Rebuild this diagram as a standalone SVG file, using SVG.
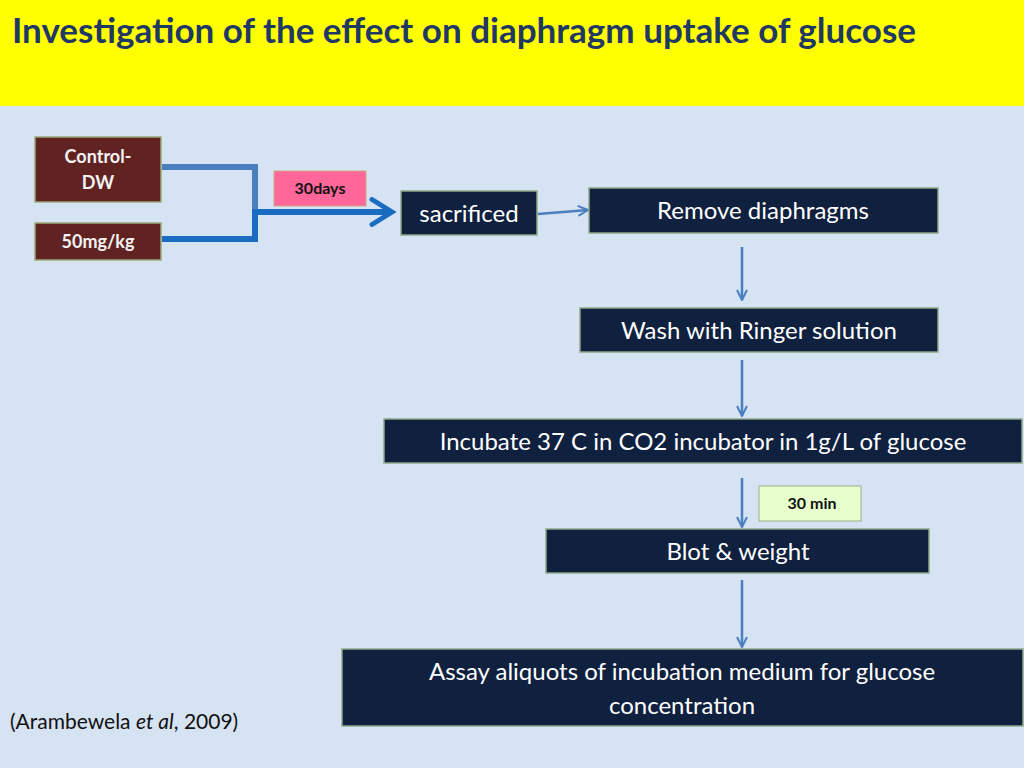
<svg xmlns="http://www.w3.org/2000/svg" width="1024" height="768" viewBox="0 0 1024 768">
<defs>
<style>
text{font-family:Lato,"Open Sans",sans-serif}
.n{fill:#10213f;stroke:#8fa88a;stroke-width:1.5}
.b{fill:#612322;stroke:#9aa97a;stroke-width:1.5}
.w{fill:#ffffff;font-size:24px;text-anchor:middle}
.bw{fill:#f2f2f2;font-size:18px;font-weight:bold;text-anchor:middle}
.c{stroke:#4a7fc0;stroke-width:2.5;fill:none}
</style>
<marker id="a" viewBox="0 0 12 12" refX="11" refY="6" markerWidth="12" markerHeight="12" markerUnits="userSpaceOnUse" orient="auto"><path d="M1,1 L11,6 L1,11" fill="none" stroke="#4a7fc0" stroke-width="2"/></marker>
<marker id="ab" viewBox="0 0 12 12" refX="10" refY="6" markerWidth="5" markerHeight="5" orient="auto"><path d="M2,1 L10,6 L2,11" fill="none" stroke="#1a6cc0" stroke-width="2" stroke-linecap="round"/></marker>
</defs>
<rect width="1024" height="768" fill="#d6e3f3"/>
<rect width="1024" height="106" fill="#ffff00"/>
<text x="12" y="43" font-size="35" font-weight="bold" fill="#1f3864">Investigation of the effect on diaphragm uptake of glucose</text>
<g id="connectors">
<path d="M162,167 H255 V212" stroke="#4a7fc0" stroke-width="6" fill="none"/>
<path d="M162,239 H255 V212 H392" stroke="#1a6cc0" stroke-width="6" fill="none" marker-end="url(#ab)"/>
<line x1="538" y1="214" x2="588" y2="210" class="c" marker-end="url(#a)"/>
<line x1="742" y1="247" x2="742" y2="300" class="c" marker-end="url(#a)"/>
<line x1="742" y1="360" x2="742" y2="416" class="c" marker-end="url(#a)"/>
<line x1="742" y1="478" x2="742" y2="527" class="c" marker-end="url(#a)"/>
<line x1="742" y1="580" x2="742" y2="647" class="c" marker-end="url(#a)"/>
</g>
<g id="control"><rect x="35" y="137" width="126" height="65" class="b"/><text x="98" y="163" class="bw">Control-</text><text x="98" y="189" class="bw">DW</text></g>
<g id="dose"><rect x="35" y="223" width="126" height="37" class="b"/><text x="98" y="248" class="bw">50mg/kg</text></g>
<g id="days"><rect x="274" y="171" width="92" height="35" fill="#ff6699" stroke="#c9a98a"/><text x="320" y="194" font-size="16" font-weight="bold" text-anchor="middle" fill="#111">30days</text></g>
<g id="sacrificed"><rect x="401" y="191" width="136" height="44" class="n"/><text x="469" y="222" class="w">sacrificed</text></g>
<g id="remove"><rect x="589" y="188" width="349" height="45" class="n"/><text x="763" y="219" class="w">Remove diaphragms</text></g>
<g id="wash"><rect x="580" y="308" width="358" height="44" class="n"/><text x="759" y="339" class="w">Wash with Ringer solution</text></g>
<g id="incubate"><rect x="384" y="419" width="638" height="44" class="n"/><text x="703" y="450" class="w">Incubate 37 C in CO2 incubator in 1g/L of glucose</text></g>
<g id="min"><rect x="759" y="486" width="102" height="35" fill="#e6ffcc" stroke="#9ab08a"/><text x="812" y="509" font-size="16" font-weight="bold" text-anchor="middle" fill="#111">30 min</text></g>
<g id="blot"><rect x="546" y="529" width="383" height="44" class="n"/><text x="738" y="560" class="w">Blot &amp; weight</text></g>
<g id="assay"><rect x="342" y="649" width="681" height="77" class="n"/><text x="682" y="680" class="w">Assay aliquots of incubation medium  for  glucose</text><text x="682" y="714" class="w">concentration</text></g>
<text x="10" y="729" font-size="21" fill="#111">(Arambewela <tspan font-style="italic">et al</tspan>, 2009)</text>
</svg>
